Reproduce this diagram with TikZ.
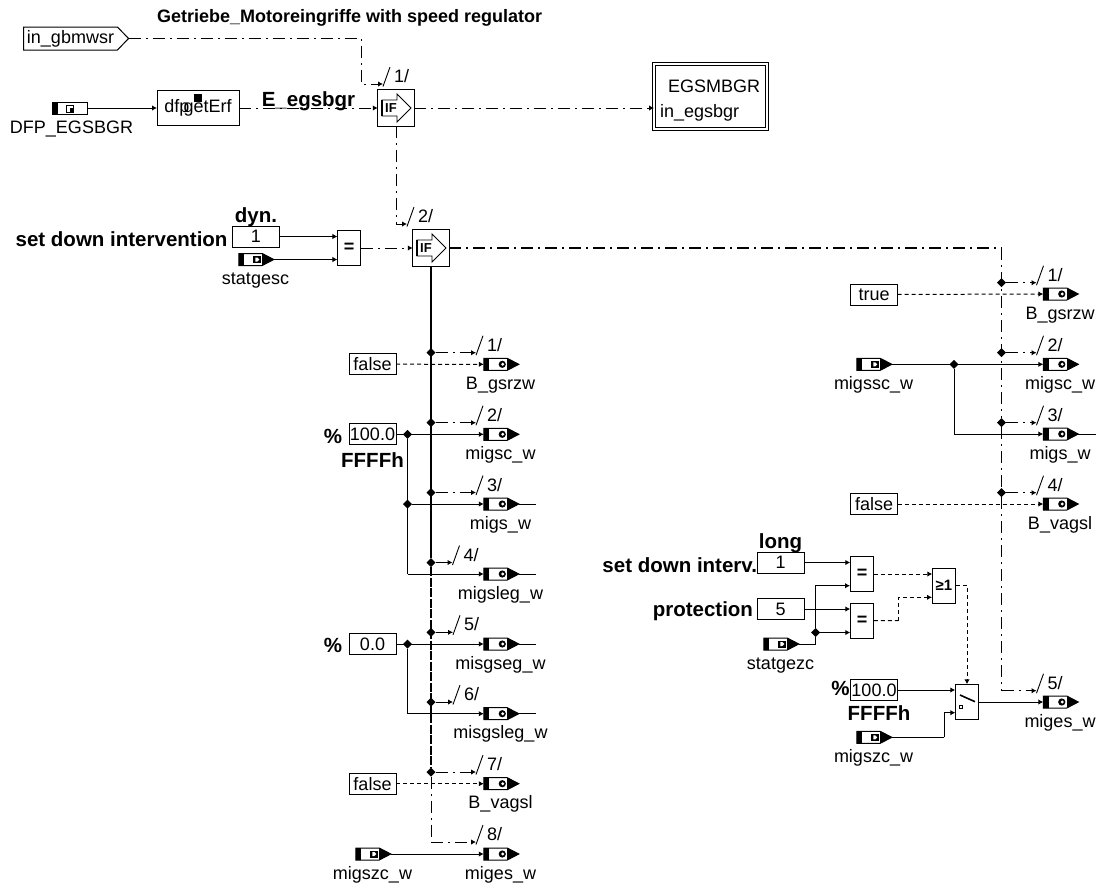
\documentclass[tikz,border=0pt]{standalone}
\usepackage{fontspec}
\setmainfont{Liberation Sans}
\usetikzlibrary{positioning, arrows.meta, shapes.geometric, shapes.symbols}
\newcommand{\seqlabel}[1]{\hspace*{11pt}\raisebox{4pt}{#1/}}

\begin{document}
\begin{tikzpicture}[
    x=1pt, y=-1pt,
    every node/.style={font=\fontsize{18}{20}\selectfont, inner sep=0pt, outer sep=0pt, line width=1pt},
    box/.style={draw, rectangle, minimum width=47pt, minimum height=21pt, align=center},
    cmp/.style={draw, rectangle, minimum width=23.5pt, minimum height=35pt, font=\fontsize{18}{18}\selectfont\bfseries},
    lbl/.style={text height=13pt, text depth=4pt},
    plbl/.style={lbl, xshift=5pt},
    blbl/.style={font=\fontsize{20.5}{22}\selectfont\bfseries, text height=15pt, text depth=4pt},
    jn/.style={diamond, fill=black, minimum size=9pt},
    seqmark/.style={anchor=base west, yshift=-2.5pt,
        append after command={(\tikzlastnode.base west) edge[draw, line width=.9pt] ++(7,-19.5)}},
    inport/.style={signal, signal to=east, signal pointer angle=55, draw, minimum width=35pt, minimum height=12pt, xshift=-5pt,
        path picture={
            \fill ([xshift=-18pt,yshift=7pt]path picture bounding box.center) rectangle ++(6,14);
            \fill ([xshift=6pt,yshift=7pt]path picture bounding box.center) rectangle ++(13,14);
            \fill ([xshift=-3.5pt,yshift=3.5pt]path picture bounding box.center) rectangle ++(8,7);
            \fill[white] ([xshift=-1pt,yshift=2pt]path picture bounding box.center) -- ++(2,0) -- ++(2,2) -- ++(-2,2) -- ++(-2,0) -- cycle;
        }},
    outport/.style={signal, signal to=east, signal pointer angle=55, draw, minimum width=35pt, minimum height=12pt, xshift=-5pt,
        path picture={
            \fill ([xshift=-18pt,yshift=7pt]path picture bounding box.center) rectangle ++(6,14);
            \fill ([xshift=6pt,yshift=7pt]path picture bounding box.center) rectangle ++(13,14);
            \fill ([xshift=1pt]path picture bounding box.center) circle (3.6pt);
            \fill[white] ([xshift=1.5pt]path picture bounding box.center) circle (1.6pt);
        }},
    calport/.style={draw, rectangle, minimum width=35pt, minimum height=12pt,
        path picture={
            \fill ([xshift=-18pt,yshift=7pt]path picture bounding box.center) rectangle ++(6,14);
            \draw[line width=.8pt] ([xshift=-3pt,yshift=3pt]path picture bounding box.center) rectangle ++(7,7);
            \fill ([xshift=0.5pt,yshift=0pt]path picture bounding box.center) rectangle ++(3.5,3.5);
        }},
    ifbox/.style={draw, rectangle, minimum size=36.5pt, font=\fontsize{13}{13}\selectfont\bfseries,
        path picture={
            \draw[line width=.9pt] ([xshift=-14pt,yshift=8pt]path picture bounding box.center) -- ++(15,0) -- ++(0,-6) -- ++(14,14) -- ++(-14,14) -- ++(0,-6) -- ++(-15,0) -- cycle;
            \draw[line width=1.6pt] ([xshift=-14pt,yshift=8pt]path picture bounding box.center) -- ++(0,16);
        }},
    wire/.style={line width=1pt},
    arr/.style={wire, -{Latex[length=5pt,width=5.5pt]}},
    dd/.style={dash pattern=on 12pt off 5pt on 2pt off 5pt},
    ds/.style={dash pattern=on 4pt off 3pt},
    spine/.style={line width=2pt}
]
    \useasboundingbox (0,0) rectangle (1100,884);

    \node[anchor=base west, font=\fontsize{18}{20}\selectfont\bfseries] (title) at (157,22) {Getriebe\_Motoreingriffe with speed regulator};

    \node[signal, signal to=east, signal pointer angle=92, draw, minimum width=105pt, minimum height=23pt] (gbmwsr) at (70.5,38.5) {in\_gbmwsr};
    \coordinate (gbcorner) at (361,84);
    \node[calport] (dfpin) at (69.5,108) {};
    \node[lbl, below=6pt of dfpin, xshift=2pt] (dfpinl) {DFP\_EGSBGR};
    \node[draw, rectangle, minimum width=82pt, minimum height=35.5pt,
        path picture={\fill ([xshift=-4pt,yshift=14.5pt]path picture bounding box.center) rectangle ++(8,8);}] (getErf) at (198,108) {dfp\kern-6pt getErf};
    \node[blbl, anchor=base] (egsbgrl) at (308.5,106) {E\_egsbgr};
    \node[ifbox] (ifa) at (396,108) {\kern-10pt IF};
    \node[seqmark] (ma1) at (383,84) {\seqlabel{1}};
    \node[seqmark] (ma2) at (407,224) {\seqlabel{2}};
    \coordinate (ifacorner) at (396,224);
    \node[draw, rectangle, double, double distance=2pt, minimum width=113pt, minimum height=65pt] (egsmbgr) at (710.5,96.3) {};
    \node[lbl, anchor=base] (egsmbgrt) at (714,92) {EGSMBGR};
    \node[lbl, anchor=base west] (egsbgrin) at (660,117.5) {in\_egsbgr};

    \node[box] (dynval) at (256,236.5) {1};
    \node[blbl, above=0pt of dynval] (dynl) {dyn.};
    \node[blbl, left=5pt of dynval, yshift=-4pt] (setdownl) {set down intervention};
    \node[inport] (statgesc) at (255.5,259.5) {};
    \node[plbl, below=6pt of statgesc] (statgescl) {statgesc};
    \node[cmp] (dyneq) at (349.2,248) {=};
    \node[ifbox] (ifb) at (431,248) {\kern-10pt IF};

    \node[box] (falsea) at (372.5,364.2) {false};
    \node[box] (maxa) at (372.5,434.3) {100.0};
    \node[blbl, left=7pt of maxa, yshift=-4pt] (pcta) {\%};
    \node[blbl, below=8pt of maxa] (ffa) {FFFFh};
    \node[box] (zeroa) at (372.5,644) {0.0};
    \node[blbl, left=7pt of zeroa, yshift=-3pt] (pctb) {\%};
    \node[box] (falseb) at (372.5,783.7) {false};
    \node[inport] (migszca) at (372.5,854) {};
    \node[plbl, below=6pt of migszca] (migszcal) {migszc\_w};

    \node[outport] (gsrzwa) at (500.5,364.3) {};
    \node[plbl, below=6pt of gsrzwa] (gsrzwal) {B\_gsrzw};
    \node[outport] (migsca) at (500.5,434.3) {};
    \node[plbl, below=6pt of migsca] (migscal) {migsc\_w};
    \node[outport] (migsa) at (500.5,504) {};
    \node[plbl, below=6pt of migsa] (migsal) {migs\_w};
    \node[outport] (migslega) at (500.5,574) {};
    \node[plbl, below=6pt of migslega] (migslegal) {migsleg\_w};
    \node[outport] (misgseg) at (500.5,644) {};
    \node[plbl, below=6pt of misgseg] (misgsegl) {misgseg\_w};
    \node[outport] (misgsleg) at (500.5,713.7) {};
    \node[plbl, below=6pt of misgsleg] (misgslegl) {misgsleg\_w};
    \node[outport] (vagsla) at (500.5,783.7) {};
    \node[plbl, below=6pt of vagsla] (vagslal) {B\_vagsl};
    \node[outport] (migesa) at (500.5,854) {};
    \node[plbl, below=6pt of migesa] (migesal) {miges\_w};

    \node[jn] (ja1) at (431,352.7) {};
    \node[jn] (ja2) at (431,422.7) {};
    \node[jn] (ja3) at (431,492.5) {};
    \node[jn] (ja4) at (431,562.5) {};
    \node[jn] (ja5) at (431,632.3) {};
    \node[jn] (ja6) at (431,702) {};
    \node[jn] (ja7) at (431,772) {};
    \coordinate (ja8) at (431,842);
    \node[seqmark] (na1) at (476,352.7) {\seqlabel{1}};
    \node[seqmark] (na2) at (476,422.7) {\seqlabel{2}};
    \node[seqmark] (na3) at (476,492.5) {\seqlabel{3}};
    \node[seqmark] (na4) at (452.5,562.5) {\seqlabel{4}};
    \node[seqmark] (na5) at (453,632.3) {\seqlabel{5}};
    \node[seqmark] (na6) at (453,702) {\seqlabel{6}};
    \node[seqmark] (na7) at (476,772) {\seqlabel{7}};
    \node[seqmark] (na8) at (476,842) {\seqlabel{8}};
    \node[jn] (maxaj) at (407.5,434.3) {};
    \node[jn] (maxbj) at (407.5,504) {};
    \node[jn] (zeroj) at (407.5,644) {};
    \coordinate (maxaend) at (407.5,574);
    \coordinate (zeroend) at (407.5,713.7);
    \coordinate (migsaend) at (536,504);
    \coordinate (migslegaend) at (536,574);
    \coordinate (misgsegend) at (536,644);
    \coordinate (misgslegend) at (536,713.7);

    \node[box] (truec) at (874,294.5) {true};
    \node[inport] (migssc) at (873.5,364.3) {};
    \node[plbl, below=6pt of migssc] (migsscl) {migssc\_w};
    \node[box] (falsec) at (874,504) {false};
    \node[jn] (migsscj) at (954,364.3) {};
    \coordinate (migsscend) at (954,434);
    \node[jn] (jb1) at (1001.5,282.7) {};
    \node[jn] (jb2) at (1001.5,352.7) {};
    \node[jn] (jb3) at (1001.5,422.7) {};
    \node[jn] (jb4) at (1001.5,492.7) {};
    \coordinate (ifbcorner) at (1001.5,248);
    \coordinate (jb5) at (1001.5,690.7);
    \node[seqmark] (nb1) at (1036.5,282.7) {\seqlabel{1}};
    \node[seqmark] (nb2) at (1036.5,352.7) {\seqlabel{2}};
    \node[seqmark] (nb3) at (1036.5,422.7) {\seqlabel{3}};
    \node[seqmark] (nb4) at (1036.5,492.7) {\seqlabel{4}};
    \node[seqmark] (nb5) at (1036.5,690.7) {\seqlabel{5}};
    \node[outport] (gsrzwb) at (1060,294) {};
    \node[plbl, below=6pt of gsrzwb] (gsrzwbl) {B\_gsrzw};
    \node[outport] (migscb) at (1060,364.3) {};
    \node[plbl, below=6pt of migscb] (migscbl) {migsc\_w};
    \node[outport] (migsb) at (1060,434) {};
    \node[plbl, below=6pt of migsb] (migsbl) {migs\_w};
    \coordinate (migsbend) at (1096,434);
    \node[outport] (vagslb) at (1060,504) {};
    \node[plbl, below=6pt of vagslb] (vagslbl) {B\_vagsl};
    \node[outport] (migesb) at (1060,702) {};
    \node[plbl, below=6pt of migesb] (migesbl) {miges\_w};

    \node[box] (longval) at (780.5,562.5) {1};
    \node[blbl, above=0pt of longval] (longl) {long};
    \node[blbl, left=0pt of longval, yshift=-4pt] (intervl) {set down interv.};
    \node[box] (protval) at (780.5,609) {5};
    \node[blbl, left=4pt of protval, yshift=-2pt] (protl) {protection};
    \node[inport] (statgezc) at (780.5,644) {};
    \node[plbl, below=6pt of statgezc] (statgezcl) {statgezc};
    \node[jn] (statj) at (815.7,632.5) {};
    \coordinate (statcorner) at (815.7,644);
    \node[cmp] (longeq) at (862,574) {=};
    \node[cmp] (proteq) at (862,620.7) {=};
    \coordinate (longin) at (850,585.7);
    \node[cmp, font=\fontsize{15}{15}\selectfont\bfseries] (orbox) at (944,585.7) {≥1};
    \coordinate (protmid) at (898,620.5);
    \coordinate (orin) at (932,597.3);
    \node[box] (maxc) at (874,690) {100.0};
    \node[blbl, left=1pt of maxc] (pctc) {\%};
    \node[blbl, below=5pt of maxc, xshift=5pt] (ffc) {FFFFh};
    \node[inport] (migszcb) at (873.5,737.3) {};
    \node[plbl, below=6pt of migszcb] (migszcbl) {migszc\_w};
    \coordinate (migszcmid) at (944,737.3);
    \coordinate (swtin) at (955.3,712.7);
    \node[draw, rectangle, minimum width=23.5pt, minimum height=35.5pt,
        path picture={
            \draw[line width=1.6pt] ([xshift=-7pt,yshift=7pt]path picture bounding box.center) -- ++(15,6.7);
            \draw[line width=.8pt] ([xshift=-7.5pt,yshift=-3.5pt]path picture bounding box.center) rectangle ++(3,3);
        }] (swt) at (967,702) {};

    \draw[arr, dd] (gbmwsr.east) -| (gbcorner) -- (gbcorner -| ma1.west);
    \draw[arr] (dfpin) -- (getErf);
    \draw[arr, dd] (getErf) -- (ifa);
    \draw[arr, dd] (ifa) -- (egsmbgr.west |- ifa);
    \draw[arr, dd] (ifa.south) -- (ifacorner) -- (ifacorner -| ma2.west);
    \draw[arr] (dynval.east |- dynval) -- (dyneq.west |- dynval);
    \draw[arr] (statgesc.east) -- (dyneq.west |- statgesc);
    \draw[arr, dd] (dyneq) -- (ifb);

    \draw[spine] (ifb.south) -- (ja4);
    \draw[spine, dash pattern=on 9pt off 1.5pt] (ja4) -- (ja7);
    \draw[wire, dd] (ja7) -- (ja8);
    \draw[arr, dd] (ja8) -- (ja8 -| na8.west);
    \draw[wire, dd, line width=1.4pt] (ifb) -- (ifbcorner) -- (jb3);
    \draw[wire, dd] (jb3) -- (jb4) -- (jb5);
    \draw[arr, dd] (jb5) -- (jb5 -| nb5.west);

    \draw[arr, dd] (ja1) -- (ja1 -| na1.west);
    \draw[arr, dd] (ja2) -- (ja2 -| na2.west);
    \draw[arr, dd] (ja3) -- (ja3 -| na3.west);
    \draw[arr] (ja4) -- (ja4 -| na4.west);
    \draw[arr] (ja5) -- (ja5 -| na5.west);
    \draw[arr] (ja6) -- (ja6 -| na6.west);
    \draw[arr, dd] (ja7) -- (ja7 -| na7.west);

    \draw[arr, ds] (falsea) -- (gsrzwa);
    \draw[arr] (maxa) -- (migsca);
    \draw[wire] (maxaj) -- (maxaend);
    \draw[arr] (maxaend) -- (migslega);
    \draw[arr] (maxbj) -- (migsa);
    \draw[arr] (zeroa) -- (misgseg);
    \draw[wire] (zeroj) -- (zeroend);
    \draw[arr] (zeroend) -- (misgsleg);
    \draw[arr, ds] (falseb) -- (vagsla);
    \draw[arr] (migszca.east) -- (migesa);
    \draw[wire] (migsa.east) -- (migsaend);
    \draw[wire] (migslega.east) -- (migslegaend);
    \draw[wire] (misgseg.east) -- (misgsegend);
    \draw[wire] (misgsleg.east) -- (misgslegend);

    \draw[arr, ds] (truec) -- (gsrzwb);
    \draw[arr] (migssc.east) -- (migscb);
    \draw[wire] (migsscj) -- (migsscend);
    \draw[arr] (migsscend) -- (migsb);
    \draw[wire] (migsb.east) -- (migsbend);
    \draw[arr, ds] (falsec) -- (vagslb);
    \draw[arr, dd] (jb1) -- (jb1 -| nb1.west);
    \draw[arr, dd] (jb2) -- (jb2 -| nb2.west);
    \draw[arr, dd] (jb3) -- (jb3 -| nb3.west);
    \draw[arr, dd] (jb4) -- (jb4 -| nb4.west);

    \draw[arr] (longval) -- (longval -| longeq.west);
    \draw[arr] (protval) -- (protval -| proteq.west);
    \draw[wire] (statgezc.east) -- (statcorner) -- (statj);
    \draw[arr] (statj) |- (longin);
    \draw[arr] (statj) -- (statj -| proteq.west);
    \draw[arr, ds] (longeq) -- (longeq -| orbox.west);
    \draw[wire, ds] (proteq) -- (protmid);
    \draw[arr, ds] (protmid) |- (orin);
    \draw[arr, ds] (orbox) -| (swt.north);
    \draw[arr] (maxc) -- (maxc -| swt.west);
    \draw[wire] (migszcb.east) -- (migszcmid);
    \draw[arr] (migszcmid) |- (swtin);
    \draw[arr] (swt) -- (migesb);
\end{tikzpicture}
\end{document}
